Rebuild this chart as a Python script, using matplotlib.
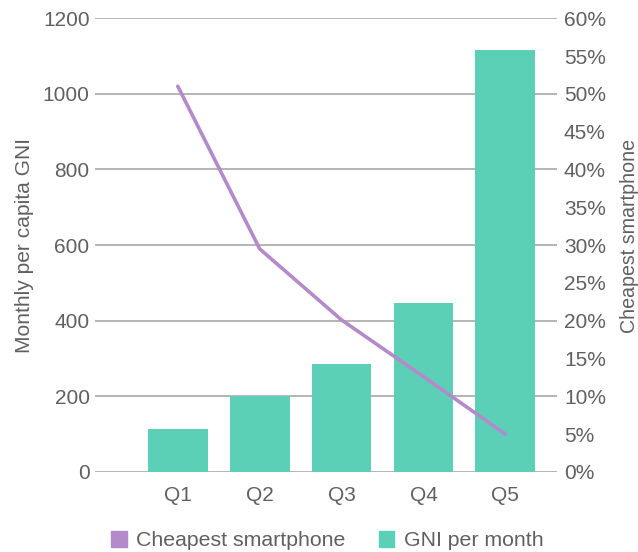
import numpy as np
import matplotlib.pyplot as plt
from matplotlib.patches import Patch
from matplotlib.ticker import FuncFormatter

plt.rcParams['font.family'] = ['Liberation Sans', 'DejaVu Sans']

quintiles = ['Q1', 'Q2', 'Q3', 'Q4', 'Q5']
gni_month = [114, 201, 286, 447, 1116]
phone_share = [51.0, 29.5, 20.1, 12.6, 5.0]

bar_col = '#5ccfb7'
line_col = '#b48acb'
txt_col = '#606060'
grid_col = '#a8a8a8'

fig = plt.figure(figsize=(6.38, 5.52), dpi=100)
ax = fig.add_axes([0.149, 0.145, 0.724, 0.822])
x = np.arange(len(quintiles))

ax.bar(x, gni_month, width=0.73, color=bar_col, zorder=2)
ax.set_ylim(0, 1200)
ax.set_yticks(np.arange(0, 1201, 200))
ax.set_xlim(-1.01, 4.63)
ax.set_xticks(x)
ax.set_xticklabels(quintiles)
ax.grid(axis='y', color=grid_col, linewidth=1.2, zorder=0)
for s in ax.spines.values():
    s.set_visible(False)
ax.tick_params(axis='y', length=0, pad=4, labelsize=15, labelcolor=txt_col)
ax.tick_params(axis='x', length=0, pad=10, labelsize=15, labelcolor=txt_col)
ax.set_ylabel('Monthly per capita GNI', fontsize=15.1, color=txt_col, va='center')
ax.yaxis.set_label_coords(-0.152, 0.5)

ax2 = ax.twinx()
ax2.plot(x, phone_share, color=line_col, linewidth=2.6, solid_capstyle='round', zorder=3)
ax2.set_ylim(0, 60)
ax2.set_yticks(np.arange(0, 61, 5))
ax2.yaxis.set_major_formatter(FuncFormatter(lambda v, p: f'{v:.0f}%'))
for s in ax2.spines.values():
    s.set_visible(False)
ax2.tick_params(axis='y', length=0, pad=5, labelsize=15, labelcolor=txt_col)
ax2.set_ylabel('Cheapest smartphone', fontsize=14.1, color=txt_col, va='center')
ax2.yaxis.set_label_coords(1.156, 0.52)

handles = [Patch(color=line_col, label='Cheapest smartphone'),
           Patch(color=bar_col, label='GNI per month')]
leg = fig.legend(handles=handles, loc='center', bbox_to_anchor=(0.513, 0.02),
                 ncol=2, frameon=False, fontsize=15.3, handlelength=0.72,
                 handleheight=0.72, handletextpad=0.43, columnspacing=1.6)
for t in leg.get_texts():
    t.set_color(txt_col)

fig.savefig('out.png', dpi=100)
